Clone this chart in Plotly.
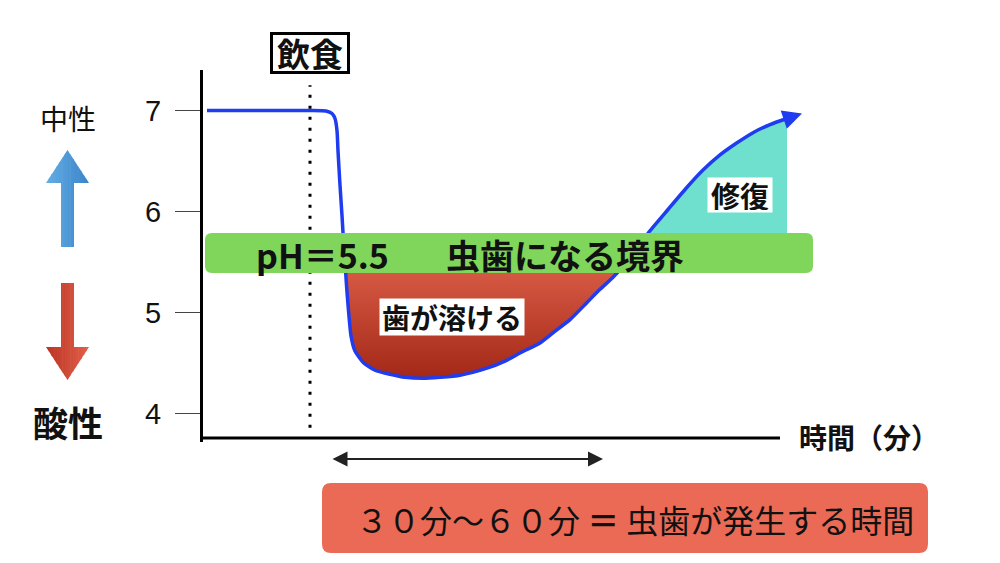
import plotly.graph_objects as go

# ---------------- data ----------------
TIME = [0.4, 5.7, 10.7, 12.3, 12.9, 13.2, 13.4, 13.5, 13.7, 13.9, 14.05, 14.2, 14.35,
        14.55, 14.8, 15.2, 16.0, 17.2, 18.7, 20.2, 22.0, 23.7, 25.7, 28.4, 30.2, 31.7,
        33.7, 35.0, 36.7, 38.4, 39.7, 41.0, 42.2, 43.2, 44.7, 46.5, 48.4, 50.0, 51.7,
        53.4, 55.0, 56.7, 58.4, 59.9]
PH = [7.0, 7.0, 7.0, 6.995, 6.97, 6.92, 6.80, 6.60, 6.26, 5.96, 5.71, 5.50, 5.27,
      5.02, 4.77, 4.62, 4.51, 4.43, 4.39, 4.36, 4.35, 4.36, 4.38, 4.45, 4.52, 4.60,
      4.70, 4.80, 4.93, 5.10, 5.23, 5.35, 5.48, 5.61, 5.81, 6.02, 6.24, 6.41, 6.56,
      6.68, 6.78, 6.86, 6.92, 6.97]
EAT_TIME = 10.7
Y_TICKS = [4, 5, 6, 7]
Y_TICK_LABELS = ["4", "5", "6", "7"]
THRESHOLD_TEXT = ["pH＝5.5", "虫歯になる境界"]
LABEL_DISSOLVE = "歯が溶ける"
LABEL_REPAIR = "修復"
LABEL_EAT = "飲食"
LABEL_TIME = "時間（分）"
LABEL_NEUTRAL = "中性"
LABEL_ACID = "酸性"
LABEL_BOTTOM = "３０分～６０分 <b>＝</b> 虫歯が発生する時間"

# ---------------- layout helpers ----------------
# the page body adds an 8px offset; margins compensate so the plot area sits at
# screen x 203..840, y 70..442
W, H = 1000, 563
ML, MR, MT, MB = 195, 168, 62, 129
PW, PHh = W - ML - MR, H - MT - MB
FONT = "Noto Sans CJK JP"


def px(x):  # screen pixel -> paper
    return (x - 203) / PW


def py(y):
    return (442 - y) / PHh


def poly_path(pts):
    s = "M" + " L".join(f"{px(x):.5f},{py(y):.5f}" for x, y in pts)
    return s + " Z"


def rrect_path(x0, y0, x1, y1, r):
    def p(x, y):
        return f"{px(x):.5f},{py(y):.5f}"
    return (f"M{p(x0 + r, y0)} L{p(x1 - r, y0)} Q{p(x1, y0)} {p(x1, y0 + r)} "
            f"L{p(x1, y1 - r)} Q{p(x1, y1)} {p(x1 - r, y1)} L{p(x0 + r, y1)} "
            f"Q{p(x0, y1)} {p(x0, y1 - r)} L{p(x0, y0 + r)} Q{p(x0, y0)} {p(x0 + r, y0)} Z")


def label(x, y, text, size, **kw):
    d = dict(xref="paper", yref="paper", x=px(x), y=py(y), text=text,
             showarrow=False, xanchor="center", yanchor="middle",
             font=dict(size=size, color="#111", family=FONT))
    d.update(kw)
    return d


def mix(c1, c2, f):
    a = [int(c1[i:i + 2], 16) for i in (1, 3, 5)]
    b = [int(c2[i:i + 2], 16) for i in (1, 3, 5)]
    return "#" + "".join(f"{round(a[k] + (b[k] - a[k]) * f):02x}" for k in range(3))


def gradient_arrow(tip_y, base_y, end_y, c_left, c_right, cx=67.5, hw=21.5, sw=6.5, n=16):
    """Vertical block arrow drawn as thin vertical strips with a left-right gradient."""
    out = []
    x0, x1 = cx - hw, cx + hw
    step = (x1 - x0) / n

    def head_edge(x):
        return tip_y + (base_y - tip_y) * abs(x - cx) / hw

    def bottom(x):
        return end_y if cx - sw <= x <= cx + sw else base_y

    for i in range(n):
        xa = x0 + i * step
        xb = min(x1, xa + step + 0.6)
        pts_top = [(xa, head_edge(xa))]
        if xa < cx < xb:
            pts_top.append((cx, tip_y))
        pts_top.append((xb, head_edge(xb)))
        bxs = [xb]
        for b in (cx + sw, cx - sw):
            if xa < b < xb:
                bxs.append(b)
        bxs.append(xa)
        bxs = sorted(set(bxs), reverse=True)
        pts_bot = []
        for j, bx in enumerate(bxs):
            pts_bot.append((bx, bottom(bx - 1e-6) if bx == xb else bottom(bx + 1e-6)))
            if j < len(bxs) - 1:
                pts_bot.append((bx, bottom(bx - 1e-6)))
        col = mix(c_left, c_right, (i + 0.5) / n)
        out.append(dict(type="path", xref="paper", yref="paper",
                        path=poly_path(pts_top + pts_bot), fillcolor=col,
                        line=dict(width=0)))
    return out


fig = go.Figure()

# red "dissolving" area (below the threshold band)
red_t = [t for t, v in zip(TIME, PH) if 13 < t < 45 and v <= 5.72]
red_v = [v for t, v in zip(TIME, PH) if 13 < t < 45 and v <= 5.72]
fig.add_trace(go.Scatter(
    x=red_t, y=red_v, mode="lines", fill="toself", line=dict(width=0),
    fillgradient=dict(type="vertical", colorscale=[[0, "#a32817"], [1, "#e4674f"]]),
    hoverinfo="skip"))

# teal "repair" area (above the band)
teal_t = [t for t, v in zip(TIME[:-1], PH[:-1]) if 43 <= t and v >= 5.6]
teal_v = [v for t, v in zip(TIME[:-1], PH[:-1]) if 43 <= t and v >= 5.6]
teal_t = teal_t + [teal_t[-1]]
teal_v = teal_v + [teal_v[0]]
fig.add_trace(go.Scatter(
    x=teal_t, y=teal_v, mode="lines", fill="toself", line=dict(width=0),
    fillcolor="#6fe0cd", hoverinfo="skip"))

# pH curve
BLUE = "#1f3cf0"
fig.add_trace(go.Scatter(
    x=TIME[:-1], y=PH[:-1], mode="lines",
    line=dict(color=BLUE, width=3.5, shape="spline", smoothing=0.6),
    hoverinfo="skip"))

shapes = []
# eating dotted line
shapes.append(dict(type="line", xref="x", yref="y", x0=EAT_TIME, x1=EAT_TIME,
                   y0=3.86, y1=7.25, line=dict(color="black", width=3, dash="3px,8px"),
                   layer="above"))
# threshold band
shapes.append(dict(type="path", xref="paper", yref="paper",
                   path=rrect_path(205, 233, 813, 273, 7),
                   fillcolor="#80d65a", line=dict(width=0), layer="above"))
# x axis line
shapes.append(dict(type="line", xref="paper", yref="paper", x0=px(201.5), x1=px(780),
                   y0=py(438), y1=py(438), line=dict(color="black", width=3)))
# bottom salmon box
shapes.append(dict(type="path", xref="paper", yref="paper",
                   path=rrect_path(322, 483, 928, 553, 9),
                   fillcolor="#ea6a55", line=dict(width=0)))
# left arrows (up: neutral, down: acid)
shapes += gradient_arrow(150, 183, 247, "#64aee4", "#3a84ca")
shapes += gradient_arrow(380, 347, 283, "#bc3424", "#e2604a")

annotations = []
# arrow head at the end of the curve
annotations.append(dict(xref="x", yref="y", axref="x", ayref="y",
                        x=TIME[-1], y=PH[-1], ax=TIME[-2], ay=PH[-2], text="",
                        showarrow=True, arrowhead=2, arrowsize=1.1, arrowwidth=3.5,
                        arrowcolor=BLUE, standoff=0))
# double arrow at the bottom
annotations.append(dict(xref="paper", yref="paper", x=px(603), y=py(459),
                        ax=-(603 - 331), ay=0, text="", showarrow=True,
                        arrowhead=2, startarrowhead=2, arrowside="end+start",
                        arrowsize=1.5, startarrowsize=1.5, arrowwidth=2,
                        arrowcolor="#222"))
# band texts
annotations.append(label(322, 254, f"<b>{THRESHOLD_TEXT[0]}</b>", 34))
annotations.append(label(565, 254, f"<b>{THRESHOLD_TEXT[1]}</b>", 34))
# area labels
annotations.append(label(452, 317, f"<b>{LABEL_DISSOLVE}</b>", 28,
                         bgcolor="white", borderpad=2, height=32))
annotations.append(label(740, 195, f"<b>{LABEL_REPAIR}</b>", 29,
                         bgcolor="white", borderpad=2, width=60, height=30))
# eating label
eat = label(312, 53.5, f"<b>{LABEL_EAT}</b>", 33, bgcolor="white",
            bordercolor="black", borderwidth=3, borderpad=1, width=72, height=34)
eat.update(xref="x", x=EAT_TIME)
annotations.append(eat)
# axis title
annotations.append(label(869, 437, f"<b>{LABEL_TIME}</b>", 28))
# left labels
annotations.append(label(67.5, 118, LABEL_NEUTRAL, 28))
annotations.append(label(67.5, 421, f"<b>{LABEL_ACID}</b>", 35))
# bottom text
annotations.append(label(635, 519, LABEL_BOTTOM, 32))

fig.update_layout(
    width=W, height=H, margin=dict(l=ML, r=MR, t=MT, b=MB),
    plot_bgcolor="white", paper_bgcolor="white", showlegend=False,
    font=dict(family=FONT, color="#111"),
    shapes=shapes, annotations=annotations,
    xaxis=dict(range=[0, 63.7], visible=False, fixedrange=True),
    yaxis=dict(range=[3.72, 7.4], tickvals=Y_TICKS, ticktext=Y_TICK_LABELS,
               ticks="outside", ticklen=25, tickwidth=1.2, tickcolor="#444",
               showline=True, linewidth=3, linecolor="black", showgrid=False,
               zeroline=False, ticklabelstandoff=8,
               tickfont=dict(size=29, color="#111", family="Liberation Sans, Arial")),
)

fig.write_html("out.html")
